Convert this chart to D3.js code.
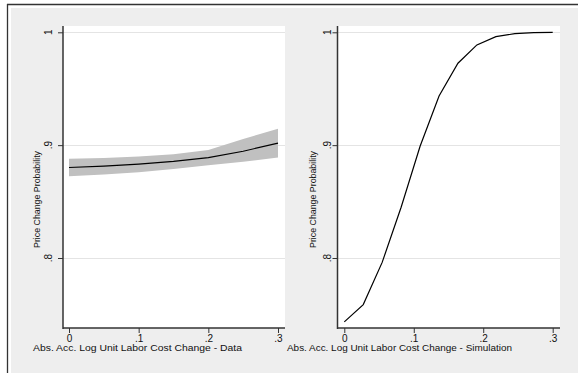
<!DOCTYPE html>
<html><head><meta charset="utf-8">
<script src="https://cdn.jsdelivr.net/npm/d3@7"></script>
<style>
html,body{margin:0;padding:0;background:#fff;}
svg{display:block;font-family:"Liberation Sans",Arial,sans-serif;}
</style></head>
<body>
<svg id="c" width="578" height="373"></svg>
<script>
// ---- data ----
const xTicks = [0, 0.1, 0.2, 0.3];
const xTickLabels = ["0", ".1", ".2", ".3"];
const yTicks = [0.8, 0.9, 1];
const yTickLabels = [".8", ".9", "1"];

// left panel (data): margin estimates with confidence band
const dataX     = [0, 0.05, 0.10, 0.15, 0.20, 0.25, 0.30];
const dataMean  = [0.8802, 0.8814, 0.8832, 0.8856, 0.8890, 0.8946, 0.9018];
const dataUpper = [0.8879, 0.8887, 0.8900, 0.8920, 0.8956, 0.9055, 0.9145];
const dataLower = [0.8724, 0.8740, 0.8760, 0.8788, 0.8822, 0.8852, 0.8890];

// right panel (simulation)
const simX = [0, 0.0273, 0.0545, 0.0818, 0.1091, 0.1364, 0.1636, 0.1909, 0.2182, 0.2455, 0.2727, 0.3];
const simY = [0.7434, 0.7587, 0.7961, 0.8450, 0.8990, 0.9436, 0.9726, 0.9888, 0.9961, 0.9988, 0.9997, 0.9999];

const xTitles = ["Abs. Acc. Log Unit Labor Cost Change - Data", "Abs. Acc. Log Unit Labor Cost Change - Simulation"];
const yTitle = "Price Change Probability";

// ---- drawing ----
const svg = d3.select("#c");
svg.append("rect").attr("x",0).attr("y",0).attr("width",578).attr("height",373).attr("fill","#fff");
svg.append("rect").attr("x",11).attr("y",8).attr("width",567).attr("height",365).attr("fill","#eeeeee");
svg.append("line").attr("x1",7).attr("x2",578).attr("y1",4.5).attr("y2",4.5).attr("stroke","#333").attr("stroke-width",1.3);
svg.append("line").attr("x1",7.5).attr("x2",7.5).attr("y1",4).attr("y2",373).attr("stroke","#333").attr("stroke-width",1.3);

const panels = [
  {x0:63, x1:285, xr:[69,278], title:xTitles[0], titleX:33, titleLen:209, yTitleX:37, tickLabX:48.5},
  {x0:337.5, x1:560, xr:[344.3,552.7], title:xTitles[1], titleX:287, titleLen:225, yTitleX:313.5, tickLabX:327}
];
const yTop = 26, yBot = 328;
const y = d3.scaleLinear().domain([0.8, 1]).range([258, 32.3]);

panels.forEach((p, i) => {
  const g = svg.append("g");
  const x = d3.scaleLinear().domain([0, 0.3]).range(p.xr);
  g.append("rect").attr("x",p.x0).attr("y",yTop).attr("width",p.x1-p.x0).attr("height",yBot-yTop).attr("fill","#fff");
  // gridlines
  g.selectAll("line.grid").data(yTicks).join("line")
    .attr("x1",p.x0).attr("x2",p.x1)
    .attr("y1",d=>Math.round(y(d))+0.5).attr("y2",d=>Math.round(y(d))+0.5)
    .attr("stroke","#e4e4e4").attr("stroke-width",1);

  if (i === 0) {
    const pts = dataX.map((d,k)=>({x:d, m:dataMean[k], u:dataUpper[k], l:dataLower[k]}));
    g.append("path").datum(pts)
      .attr("d", d3.area().x(d=>x(d.x)).y0(d=>y(d.l)).y1(d=>y(d.u)))
      .attr("fill","#c0c0c0");
    g.append("path").datum(pts)
      .attr("d", d3.line().x(d=>x(d.x)).y(d=>y(d.m)))
      .attr("fill","none").attr("stroke","#000").attr("stroke-width",1.2);
  } else {
    const pts = simX.map((d,k)=>({x:d, v:simY[k]}));
    g.append("path").datum(pts)
      .attr("d", d3.line().x(d=>x(d.x)).y(d=>y(d.v)))
      .attr("fill","none").attr("stroke","#000").attr("stroke-width",1.2);
  }

  // axes
  const yAxis = d3.axisLeft(y).tickValues(yTicks).tickFormat((d,k)=>yTickLabels[k]).tickSize(5).tickPadding(3);
  const ya = g.append("g").attr("transform",`translate(${p.x0},0)`).call(yAxis);
  ya.select(".domain").remove();
  ya.selectAll(".tick line").attr("stroke","#333");
  ya.selectAll(".tick text").remove();
  g.append("line").attr("x1",p.x0).attr("x2",p.x0).attr("y1",yTop).attr("y2",yBot+1).attr("stroke","#333").attr("stroke-width",1.5);
  g.selectAll("text.ytl").data(yTicks).join("text")
    .attr("transform",d=>`translate(${p.tickLabX},${y(d)}) rotate(-90)`)
    .attr("text-anchor","middle").attr("dy","0.35em")
    .attr("font-size",10).attr("fill","#111").text((d,k)=>yTickLabels[k]);

  const xAxis = d3.axisBottom(x).tickValues(xTicks).tickFormat((d,k)=>xTickLabels[k]).tickSize(5).tickPadding(2);
  const xa = g.append("g").attr("transform",`translate(0,${yBot})`).call(xAxis);
  xa.select(".domain").remove();
  xa.selectAll(".tick line").attr("stroke","#333");
  xa.selectAll(".tick text").attr("font-size",10).attr("fill","#111").attr("font-family","Liberation Sans, Arial, sans-serif");
  g.append("line").attr("x1",p.x0).attr("x2",p.x1).attr("y1",yBot).attr("y2",yBot).attr("stroke","#333").attr("stroke-width",1.5);

  // titles
  g.append("text").attr("x",p.titleX).attr("y",351).attr("font-size",9).attr("fill","#111")
    .attr("textLength",p.titleLen).attr("lengthAdjust","spacingAndGlyphs").text(p.title);
  g.append("text").attr("transform",`translate(${p.yTitleX},199.5) rotate(-90)`)
    .attr("text-anchor","middle").attr("dy","0.35em").attr("font-size",8.5).attr("fill","#111")
    .attr("textLength",97).attr("lengthAdjust","spacingAndGlyphs").text(yTitle);
});
</script>
</body></html>
